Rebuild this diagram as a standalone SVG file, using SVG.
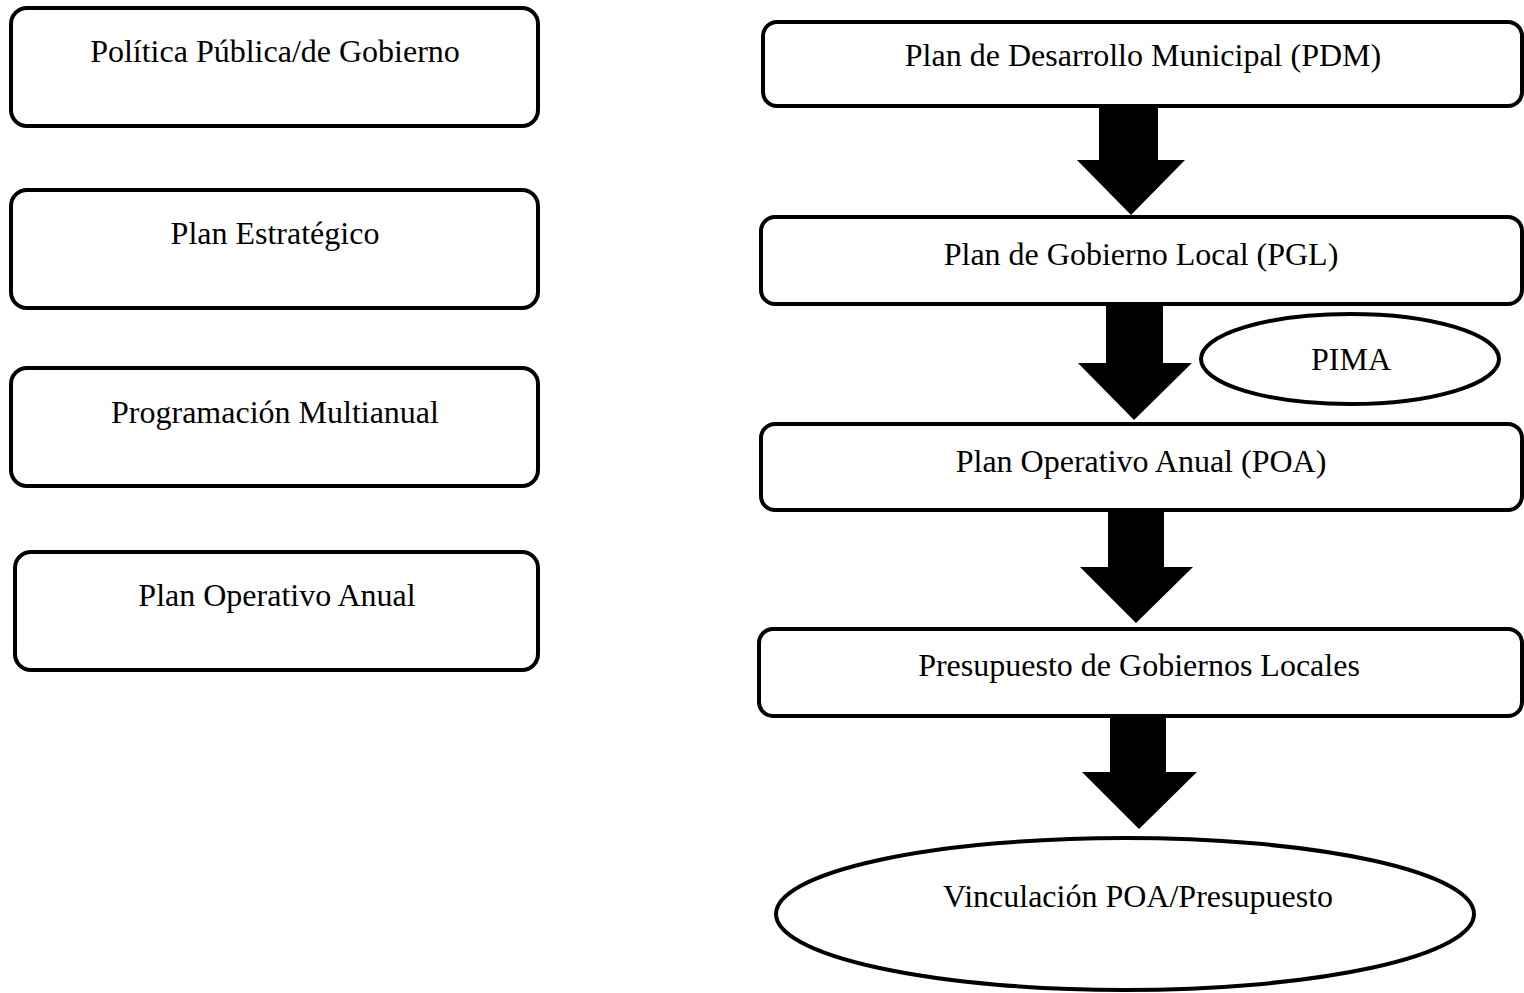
<svg xmlns="http://www.w3.org/2000/svg" width="1524" height="993" viewBox="0 0 1524 993">
<style>
.box{fill:#fff;stroke:#000;stroke-width:4}
.t{font-family:"Liberation Serif","Times New Roman",serif;font-size:32px;fill:#000;text-anchor:middle}
.arr{fill:#000;stroke:none}
</style>
<rect width="1524" height="993" fill="#fff"/>
<g id="n-politica"><rect class="box" x="11" y="8" width="527" height="118" rx="16"/><text class="t" x="275" y="62">Política Pública/de Gobierno</text></g>
<g id="n-estrategico"><rect class="box" x="11" y="190" width="527" height="118" rx="16"/><text class="t" x="275" y="244">Plan Estratégico</text></g>
<g id="n-multianual"><rect class="box" x="11" y="368" width="527" height="118" rx="16"/><text class="t" x="275" y="423">Programación Multianual</text></g>
<g id="n-poa-left"><rect class="box" x="15" y="552" width="523" height="118" rx="16"/><text class="t" x="277" y="606">Plan Operativo Anual</text></g>
<g id="connectors">
<polygon class="arr" points="1099,104 1158,104 1158,160 1185,160 1131,215 1077,160 1099,160"/>
<polygon class="arr" points="1106,302 1163,302 1163,363 1192,363 1134,420 1078,363 1106,363"/>
<polygon class="arr" points="1108,508 1164,508 1164,567 1193,567 1136,623 1080,567 1108,567"/>
<polygon class="arr" points="1110,714 1166,714 1166,772 1197,772 1139,829 1082,772 1110,772"/>
</g>
<g id="n-pdm"><rect class="box" x="763" y="22" width="759" height="84" rx="14"/><text class="t" x="1143" y="66">Plan de Desarrollo Municipal (PDM)</text></g>
<g id="n-pgl"><rect class="box" x="761" y="217" width="761" height="87" rx="14"/><text class="t" x="1141" y="265">Plan de Gobierno Local (PGL)</text></g>
<g id="n-pima"><ellipse class="box" cx="1350" cy="359" rx="149" ry="45"/><text class="t" x="1351" y="370">PIMA</text></g>
<g id="n-poa"><rect class="box" x="761" y="424" width="761" height="86" rx="14"/><text class="t" x="1141" y="472">Plan Operativo Anual (POA)</text></g>
<g id="n-presupuesto"><rect class="box" x="759" y="629" width="763" height="87" rx="14"/><text class="t" x="1139" y="676">Presupuesto de Gobiernos Locales</text></g>
<g id="n-vinculacion"><ellipse class="box" cx="1125" cy="914" rx="349" ry="76"/><text class="t" x="1138" y="907">Vinculación POA/Presupuesto</text></g>
</svg>
